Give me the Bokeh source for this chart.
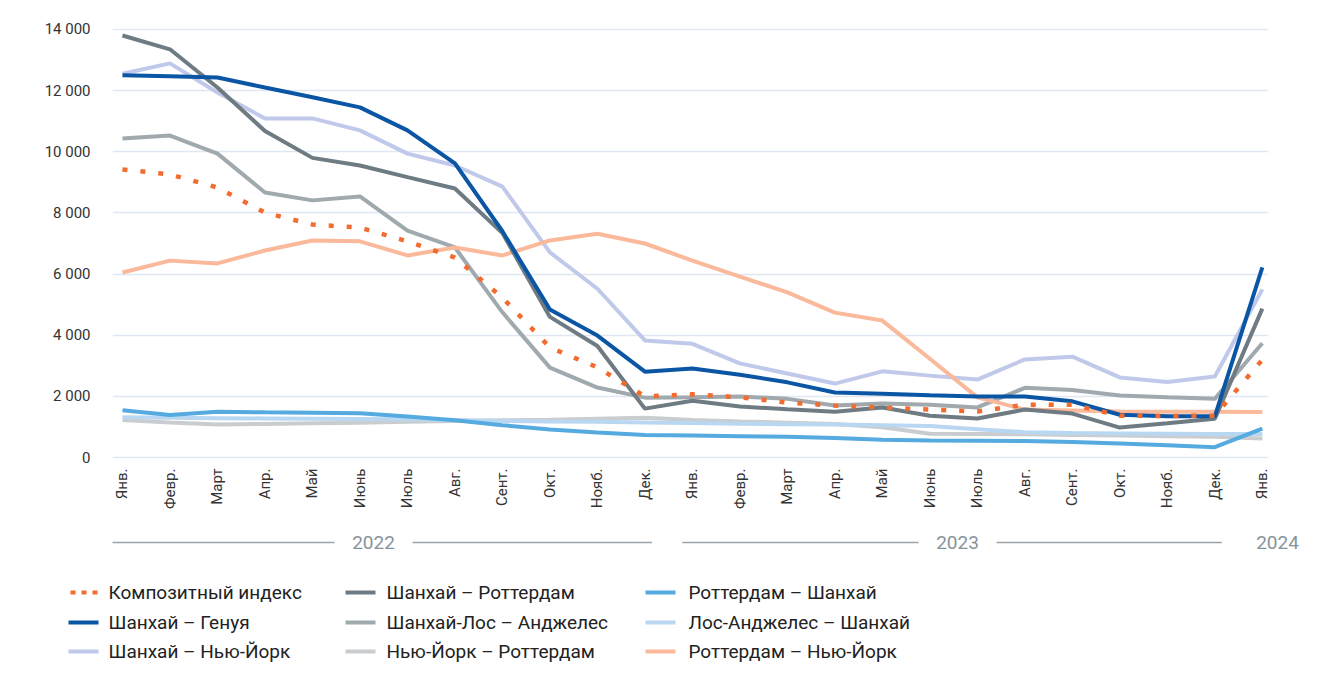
from math import pi
from bokeh.plotting import figure
from bokeh.models import Range1d, FixedTicker
from bokeh.core.properties import value
from bokeh.embed import file_html
from bokeh.resources import INLINE

months = ["Янв.", "Февр.", "Март", "Апр.", "Май", "Июнь", "Июль", "Авг.", "Сент.", "Окт.", "Нояб.", "Дек.",
          "Янв.", "Февр.", "Март", "Апр.", "Май", "Июнь", "Июль", "Авг.", "Сент.", "Окт.", "Нояб.", "Дек.",
          "Янв."]
years = ["2022", "2023", "2024"]
year_first = [0, 12, 24]
year_last = [11, 23, 24]

composite = [9420, 9260, 8830, 8010, 7620, 7520, 7070, 6540, 5230, 3600, 2950, 2000,
             2070, 1970, 1800, 1700, 1640, 1570, 1510, 1730, 1730, 1370, 1360, 1370, 3200]
sh_rot = [13800, 13350, 12100, 10680, 9800, 9550, 9170, 8800, 7340, 4600, 3650, 1600,
          1860, 1670, 1580, 1500, 1640, 1370, 1280, 1570, 1440, 980, 1120, 1270, 4870]
rot_sh = [1550, 1390, 1500, 1480, 1470, 1450, 1340, 1220, 1060, 920, 820, 740,
          720, 700, 680, 640, 580, 560, 550, 540, 510, 460, 400, 340, 950]
sh_gen = [12500, 12470, 12430, 12100, 11780, 11450, 10700, 9620, 7400, 4840, 3990, 2810,
          2910, 2710, 2460, 2130, 2090, 2040, 2000, 2000, 1840, 1400, 1350, 1350, 6220]
sh_la = [10430, 10530, 9940, 8670, 8410, 8540, 7420, 6870, 4750, 2940, 2290, 1960,
         1970, 2000, 1920, 1700, 1770, 1730, 1640, 2280, 2210, 2030, 1970, 1920, 3740]
la_sh = [1320, 1300, 1290, 1280, 1270, 1260, 1250, 1230, 1200, 1180, 1170, 1150,
         1130, 1110, 1090, 1080, 1060, 1030, 930, 830, 800, 790, 780, 770, 770]
sh_ny = [12550, 12890, 11940, 11090, 11090, 10700, 9940, 9550, 8860, 6710, 5520, 3830,
         3720, 3080, 2750, 2420, 2820, 2680, 2550, 3210, 3300, 2620, 2470, 2650, 5500]
ny_rot = [1230, 1150, 1080, 1100, 1120, 1140, 1170, 1200, 1220, 1240, 1270, 1300,
          1230, 1180, 1140, 1100, 990, 780, 770, 760, 740, 720, 700, 680, 620]
rot_ny = [6050, 6440, 6350, 6770, 7100, 7070, 6610, 6870, 6610, 7100, 7320, 7000,
          6440, 5920, 5400, 4740, 4480, 3230, 1970, 1570, 1540, 1510, 1500, 1500, 1490]

y_ticks = [0, 2000, 4000, 6000, 8000, 10000, 12000, 14000]
y_tick_labels = ["0", "2 000", "4 000", "6 000", "8 000", "10 000", "12 000", "14 000"]

# name, values, color, dashed
series = [
    ("Композитный индекс", composite, "#f26b2f", True),
    ("Шанхай – Роттердам", sh_rot, "#6e7b83", False),
    ("Роттердам – Шанхай", rot_sh, "#55aae0", False),
    ("Шанхай – Генуя", sh_gen, "#0b56a4", False),
    ("Шанхай-Лос – Анджелес", sh_la, "#a0a9ae", False),
    ("Лос-Анджелес – Шанхай", la_sh, "#b9d7f1", False),
    ("Шанхай – Нью-Йорк", sh_ny, "#c0c9ea", False),
    ("Нью-Йорк – Роттердам", ny_rot, "#c9cdd0", False),
    ("Роттердам – Нью-Йорк", rot_ny, "#f9b99a", False),
]
draw_order = [7, 5, 6, 4, 8, 2, 1, 3, 0]

W = 1306
H1 = 525
H2 = 142
FONT = "Roboto"

x0, x1 = -0.21, 24.13
y0, y1 = -30, 14030
b_left, b_right, b_top, b_bottom = 112, 38, 28, 67
p = figure(width=W, height=H1, x_range=Range1d(x0, x1), y_range=Range1d(y0, y1),
           output_backend="svg", toolbar_location=None,
           min_border_left=b_left, min_border_right=b_right,
           min_border_top=b_top, min_border_bottom=b_bottom)
p.outline_line_color = None
p.background_fill_color = "white"
p.border_fill_color = "white"

xs = list(range(len(months)))
for k in draw_order:
    name, vals, color, dashed = series[k]
    if dashed:
        p.line(xs, vals, line_color=color, line_width=4.5, line_dash="5 13")
    else:
        p.line(xs, vals, line_color=color, line_width=4)

p.xgrid.visible = False
p.ygrid.ticker = FixedTicker(ticks=y_ticks)
p.ygrid.grid_line_color = "#dfe7f3"
p.ygrid.grid_line_width = 1.5

p.yaxis.ticker = FixedTicker(ticks=y_ticks)
p.yaxis.major_label_overrides = {t: s for t, s in zip(y_ticks, y_tick_labels)}
p.yaxis.axis_line_color = None
p.yaxis.major_tick_line_color = None
p.yaxis.minor_tick_line_color = None
p.yaxis.major_tick_out = 0
p.yaxis.major_label_standoff = 22
p.yaxis.major_label_text_font = FONT
p.yaxis.major_label_text_font_size = "15px"
p.yaxis.major_label_text_color = "#333333"

p.xaxis.ticker = FixedTicker(ticks=xs)
p.xaxis.major_label_overrides = {i: m for i, m in zip(xs, months)}
p.xaxis.major_label_orientation = pi / 2
p.xaxis.axis_line_color = None
p.xaxis.major_tick_line_color = None
p.xaxis.minor_tick_line_color = None
p.xaxis.major_tick_out = 0
p.xaxis.major_label_standoff = 10
p.xaxis.major_label_text_font = FONT
p.xaxis.major_label_text_font_size = "15px"
p.xaxis.major_label_text_color = "#333333"

# bottom panel: years row and legend, in pixel coordinates
p2 = figure(width=W, height=H2, x_range=Range1d(0, W), y_range=Range1d(H2, 0),
            output_backend="svg", toolbar_location=None, min_border=0,
            x_axis_location=None, y_axis_location=None)
p2.outline_line_color = None
p2.grid.visible = False
p2.background_fill_color = "white"
p2.border_fill_color = "white"

sx = (W - b_left - b_right) / (x1 - x0)

def px(i):
    return b_left + (i - x0) * sx

year_centers = [373, 957, 1277]
gap = 39
yy = 17
for yr, a, b, c in zip(years, year_first, year_last, year_centers):
    left = px(a) - 10
    right = px(b) + 7
    if right - left > 100:
        p2.segment(x0=[left, c + gap], y0=[yy, yy], x1=[c - gap, right], y1=[yy, yy],
                   line_color="#9aa4aa", line_width=1.5)
    p2.text(x=[c], y=[yy], text=[yr], text_align="center", text_baseline="middle",
            text_font=value(FONT), text_font_size="19px", text_color="#86939a")

col_sw = [68, 345, 645]
col_tx = [108, 386, 688]
row_y = [67, 97, 126]
for idx, (name, vals, color, dashed) in enumerate(series):
    r, c = idx // 3, idx % 3
    y = row_y[r]
    xa = col_sw[c]
    if dashed:
        p2.line([xa + 2, xa + 30], [y, y], line_color=color, line_width=4, line_dash="5 6")
    else:
        p2.line([xa, xa + 30], [y, y], line_color=color, line_width=4)
    p2.text(x=[col_tx[c]], y=[y], text=[name], text_align="left", text_baseline="middle",
            text_font=value(FONT), text_font_size="19px", text_color="#222222")

open("out.html", "w").write(file_html([p, p2], INLINE))
